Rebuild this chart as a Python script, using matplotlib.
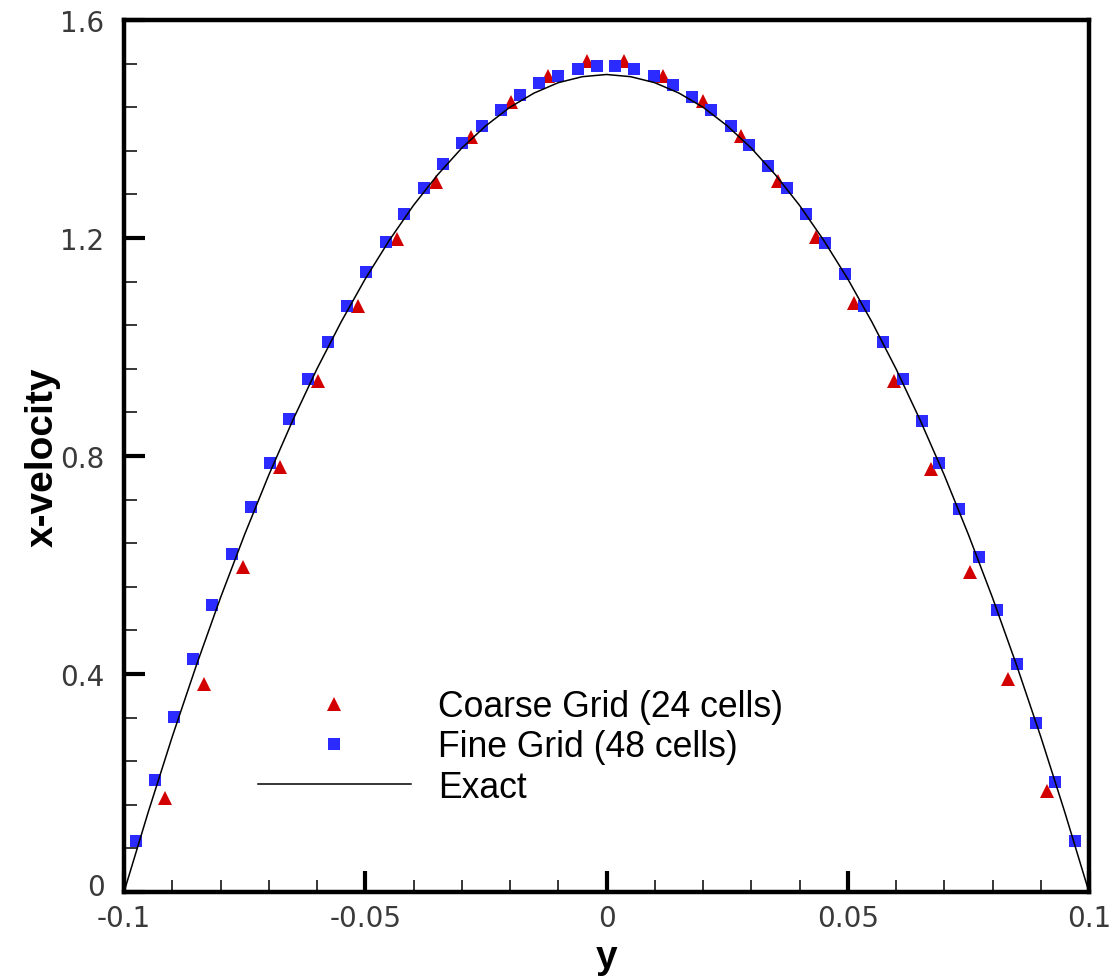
import matplotlib
matplotlib.use("Agg")
import matplotlib.pyplot as plt
import matplotlib.transforms as mtransforms
from matplotlib.ticker import FixedLocator, MultipleLocator

plt.rcParams['axes.unicode_minus'] = False

# ---- data ----
coarse_y = [-0.0914, -0.0834, -0.0754, -0.0677, -0.0597, -0.0514, -0.0435, -0.0354,
            -0.0280, -0.0198, -0.0121, -0.0040, 0.0037, 0.0118, 0.0199, 0.0278,
            0.0355, 0.0434, 0.0513, 0.0596, 0.0673, 0.0753, 0.0833, 0.0913]
coarse_u = [0.172, 0.382, 0.596, 0.779, 0.938, 1.076, 1.198, 1.302,
            1.385, 1.450, 1.498, 1.525, 1.525, 1.498, 1.452, 1.388,
            1.305, 1.201, 1.081, 0.938, 0.776, 0.588, 0.391, 0.186]

fine_y = [-0.0976, -0.0936, -0.0896, -0.0857, -0.0817, -0.0777, -0.0737, -0.0697,
          -0.0657, -0.0618, -0.0578, -0.0538, -0.0498, -0.0458, -0.0419, -0.0379,
          -0.0339, -0.0299, -0.0259, -0.0219, -0.0179, -0.0139, -0.0100, -0.0060,
          -0.0020, 0.0017, 0.0057, 0.0098, 0.0137, 0.0177, 0.0217, 0.0258, 0.0296,
          0.0334, 0.0374, 0.0414, 0.0453, 0.0494, 0.0534, 0.0574, 0.0614, 0.0653,
          0.0690, 0.0730, 0.0771, 0.0810, 0.0851, 0.0890, 0.0930, 0.0971]
fine_u = [0.093, 0.206, 0.321, 0.428, 0.527, 0.620, 0.706, 0.788,
          0.868, 0.941, 1.010, 1.075, 1.137, 1.193, 1.244, 1.291,
          1.336, 1.374, 1.406, 1.435, 1.463, 1.484, 1.498, 1.510,
          1.516, 1.516, 1.510, 1.498, 1.481, 1.459, 1.435, 1.406, 1.371,
          1.333, 1.291, 1.244, 1.191, 1.134, 1.076, 1.010, 0.941, 0.865,
          0.788, 0.703, 0.614, 0.518, 0.418, 0.311, 0.202, 0.093]

exact_y = [-0.100, -0.095, -0.090, -0.085, -0.080, -0.075, -0.070, -0.065, -0.060,
           -0.055, -0.050, -0.045, -0.040, -0.035, -0.030, -0.025, -0.020, -0.015,
           -0.010, -0.005, 0.000, 0.005, 0.010, 0.015, 0.020, 0.025, 0.030, 0.035,
           0.040, 0.045, 0.050, 0.055, 0.060, 0.065, 0.070, 0.075, 0.080, 0.085,
           0.090, 0.095, 0.100]
exact_u = [0.0, 0.146, 0.285, 0.416, 0.540, 0.656, 0.765, 0.866, 0.960,
           1.046, 1.125, 1.196, 1.260, 1.316, 1.365, 1.406, 1.440, 1.466,
           1.485, 1.496, 1.500, 1.496, 1.485, 1.466, 1.440, 1.406, 1.365, 1.316,
           1.260, 1.196, 1.125, 1.046, 0.960, 0.866, 0.765, 0.656, 0.540, 0.416,
           0.285, 0.146, 0.0]

labels = ["Coarse Grid (24 cells)", "Fine Grid (48 cells)", "Exact"]
xticks = [-0.1, -0.05, 0.0, 0.05, 0.1]
xticklabels = ["-0.1", "-0.05", "0", "0.05", "0.1"]
yticks = [0.0, 0.4, 0.8, 1.2, 1.6]
yticklabels = ["0", "0.4", "0.8", "1.2", "1.6"]

# ---- figure ----
fig = plt.figure(figsize=(11.19, 9.78), dpi=100)
ax = fig.add_axes([124/1119, 1-893/978, 965/1119, 872/978])

h1, = ax.plot(coarse_y, coarse_u, linestyle='none', marker='^', markersize=10,
              color='#d20000', markeredgewidth=0, label=labels[0], zorder=3)
h2, = ax.plot(fine_y, fine_u, linestyle='none', marker='s', markersize=9.3,
              color='#2b2bff', markeredgewidth=0, label=labels[1], zorder=4)
h3, = ax.plot(exact_y, exact_u, color='black', linewidth=1.1, label=labels[2], zorder=5)

ax.set_xlim(-0.1, 0.1)
ax.set_ylim(0, 1.6)

ax.xaxis.set_major_locator(FixedLocator(xticks))
ax.yaxis.set_major_locator(FixedLocator(yticks))
ax.xaxis.set_minor_locator(MultipleLocator(0.01))
ax.yaxis.set_minor_locator(MultipleLocator(0.08))
tick_font = dict(family=['DejaVu Sans'], size=20, color='#3a3a3a')
ax.set_xticklabels(xticklabels, **tick_font)
ax.set_yticklabels(yticklabels, **tick_font)

ax.tick_params(which='major', direction='in', length=15, width=3, top=False, right=False)
ax.tick_params(which='minor', direction='in', length=9, width=1.1, top=False, right=False)
ax.tick_params(axis='x', which='major', pad=9)
ax.tick_params(axis='y', which='major', pad=14)

# nudge the "0" y tick label up slightly so it clears the "-0.1" label
lbl0 = ax.get_yticklabels()[0]
lbl0.set_transform(lbl0.get_transform() +
                   mtransforms.ScaledTranslation(0, 6/72, fig.dpi_scale_trans))

for s in ax.spines.values():
    s.set_linewidth(3.2)

ax.set_xlabel("y", fontsize=28, fontweight='bold', family=['Liberation Sans', 'DejaVu Sans'], labelpad=5)
ax.set_ylabel("x-velocity", fontsize=28, fontweight='bold', family=['Liberation Sans', 'DejaVu Sans'], labelpad=0)

leg = ax.legend(handles=[h1, h2, h3], loc='upper left',
                bbox_to_anchor=((258-124)/965, (893-690)/872),
                frameon=False, borderpad=0, borderaxespad=0,
                handlelength=4.3, handletextpad=0.76, labelspacing=0.15,
                prop=dict(family=['Liberation Sans', 'DejaVu Sans'], size=25.6))

fig.savefig("out.png", dpi=100)
